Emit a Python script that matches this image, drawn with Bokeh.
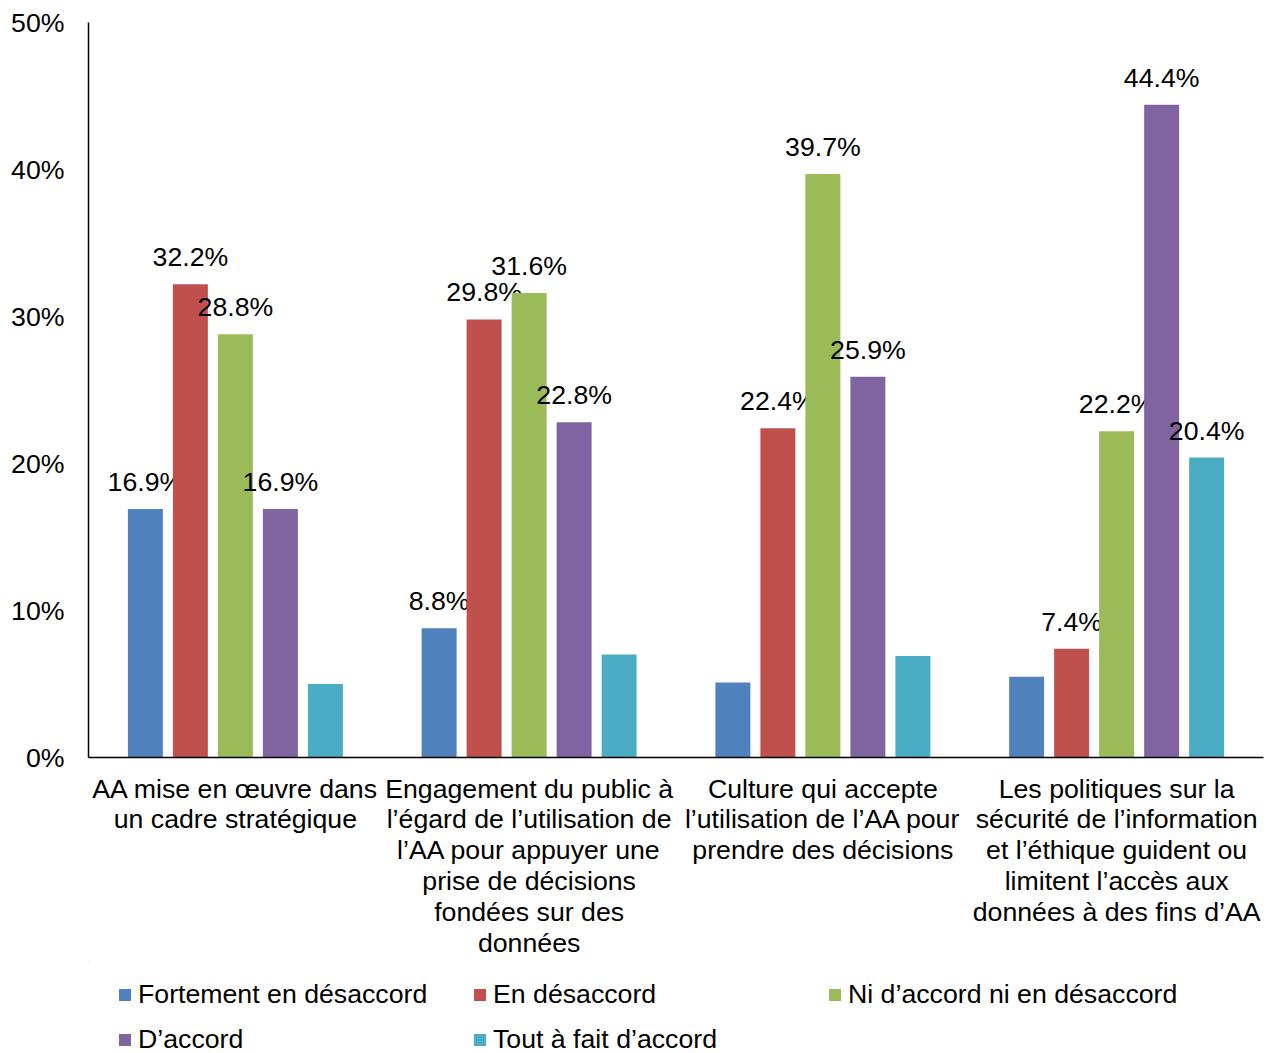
from bokeh.plotting import figure
from bokeh.layouts import column
from bokeh.models import Range1d, FixedTicker, PrintfTickFormatter, Legend, LegendItem, ColumnDataSource
from bokeh.core.properties import value
from bokeh.embed import file_html
from bokeh.resources import INLINE

categories = [
    "AA mise en œuvre dans\nun cadre stratégique",
    "Engagement du public à\nl’égard de l’utilisation de\nl’AA pour appuyer une\nprise de décisions\nfondées sur des\ndonnées",
    "Culture qui accepte\nl’utilisation de l’AA pour\nprendre des décisions",
    "Les politiques sur la\nsécurité de l’information\net l’éthique guident ou\nlimitent l’accès aux\ndonnées à des fins d’AA",
]
series_names = [
    "Fortement en désaccord",
    "En désaccord",
    "Ni d’accord ni en désaccord",
    "D’accord",
    "Tout à fait d’accord",
]
fortement = [16.9, 8.8, 5.1, 5.5]
en_desaccord = [32.2, 29.8, 22.4, 7.4]
ni_ni = [28.8, 31.6, 39.7, 22.2]
d_accord = [16.9, 22.8, 25.9, 44.4]
tout_a_fait = [5.0, 7.0, 6.9, 20.4]
series_values = [fortement, en_desaccord, ni_ni, d_accord, tout_a_fait]
colors = ["#4F81BD", "#C0504D", "#9BBB59", "#8064A2", "#4BACC6"]
y_ticks = [0, 10, 20, 30, 40, 50]
LABEL_MIN = 7.2

FONT = "Liberation Sans"
FS = "26.7px"

p = figure(width=1271, height=961, output_backend="svg", toolbar_location=None,
           x_range=Range1d(0, 4), y_range=Range1d(0, 50),
           min_border_left=88, min_border_right=8, min_border_top=22, min_border_bottom=204)
p.outline_line_color = None
p.xgrid.grid_line_color = None
p.ygrid.grid_line_color = None

group_step = 0.1532
bar_w = 0.1191

for j, (name, vals, col) in enumerate(zip(series_names, series_values, colors)):
    xs = [i + 0.5 + (j - 2) * group_step for i in range(len(categories))]
    src = ColumnDataSource(dict(x=xs, top=vals,
                                lab=[f"{v:.1f}%" if v >= LABEL_MIN else "" for v in vals]))
    p.vbar(x="x", top="top", width=bar_w, bottom=0, source=src,
           fill_color=col, line_color=None)
    p.text(x="x", y="top", text="lab", source=src, text_align="center",
           text_baseline="alphabetic", y_offset=-27, text_font=value(FONT),
           text_font_size=FS, text_color="black")

# axes
p.xaxis.ticker = FixedTicker(ticks=[i + 0.5 for i in range(len(categories))])
p.xaxis.major_label_overrides = {i + 0.5: c for i, c in enumerate(categories)}
p.yaxis.ticker = FixedTicker(ticks=y_ticks)
p.yaxis.formatter = PrintfTickFormatter(format="%d%%")
for ax in (p.xaxis, p.yaxis):
    ax.major_tick_out = 0
    ax.major_tick_in = 0
    ax.minor_tick_out = 0
    ax.minor_tick_in = 0
    ax.axis_line_color = "black"
    ax.axis_line_width = 1.5
    ax.major_label_text_font = FONT
    ax.major_label_text_font_size = FS
    ax.major_label_text_color = "black"
p.xaxis.major_label_standoff = 16
p.xaxis.major_label_text_line_height = 1.03
p.yaxis.major_label_standoff = 24

# legend in its own strip below the chart
lf = figure(width=1271, height=92, output_backend="svg", toolbar_location=None,
            x_range=Range1d(0, 1), y_range=Range1d(0, 1),
            x_axis_type=None, y_axis_type=None, min_border=0)
lf.outline_line_color = None
lf.xgrid.grid_line_color = None
lf.ygrid.grid_line_color = None
items = []
for name, col in zip(series_names, colors):
    # zero-width placeholder far outside the visible range, only used for the legend swatch
    r = lf.vbar(x=[-10], bottom=[50], top=[51], width=0, fill_color=col, line_color=None)
    items.append(LegendItem(label=name, renderers=[r]))
legend = Legend(items=items, location=(29, -2), orientation="horizontal", ncols=3,
                label_text_font=FONT, label_text_font_size=FS,
                label_text_color="black", glyph_width=15, glyph_height=15,
                label_standoff=6, label_width=320, spacing=14, padding=0, margin=0,
                border_line_color=None, background_fill_alpha=0)
lf.add_layout(legend, "center")

layout = column(p, lf, spacing=0)
open("out.html", "w").write(file_html(layout, INLINE))
